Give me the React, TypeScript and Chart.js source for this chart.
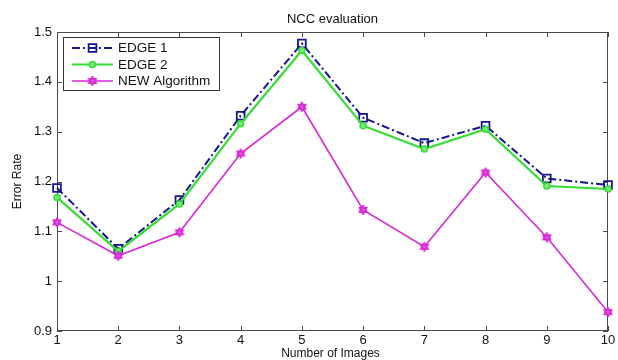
import React, { useEffect, useRef } from "react";
import { Chart, registerables } from "chart.js";

Chart.register(...registerables);

const categories = ["1", "2", "3", "4", "5", "6", "7", "8", "9", "10"];
const edge1 = [1.187, 1.065, 1.163, 1.332, 1.477, 1.328, 1.277, 1.312, 1.206, 1.193];
const edge2 = [1.168, 1.06, 1.155, 1.316, 1.463, 1.312, 1.265, 1.305, 1.191, 1.185];
const newAlgo = [1.118, 1.051, 1.098, 1.256, 1.35, 1.143, 1.069, 1.218, 1.088, 0.938];
const seriesNames = ["EDGE 1", "EDGE 2", "NEW Algorithm"];
const titleText = "NCC evaluation";
const xTitle = "Number of Images";
const yTitle = "Error Rate";
const yMin = 0.9;
const yMax = 1.5;
const yStep = 0.1;

const NAVY = "#16168e";
const GREEN = "#34dc34";
const MAGENTA = "#d629d6";
const AXIS = "#4a4a4a";
const FONT = "'Liberation Sans', Arial, Helvetica, sans-serif";
const DASH1 = [8, 3, 2, 3];

function makeHexagram(color: string, r: number): HTMLCanvasElement {
  const size = Math.ceil(r * 2 + 4);
  const c = document.createElement("canvas");
  c.width = size;
  c.height = size;
  const g = c.getContext("2d")!;
  const cx = size / 2, cy = size / 2;
  g.fillStyle = color;
  g.strokeStyle = color;
  g.lineWidth = 1;
  for (let t = 0; t < 2; t++) {
    g.beginPath();
    for (let k = 0; k < 3; k++) {
      const ang = -Math.PI / 2 + t * Math.PI + (k * 2 * Math.PI) / 3;
      const px = cx + Math.cos(ang) * r, py = cy + Math.sin(ang) * r;
      if (k === 0) g.moveTo(px, py);
      else g.lineTo(px, py);
    }
    g.closePath();
    g.fill();
    g.stroke();
  }
  g.fillStyle = "rgba(255,255,255,0.25)";
  g.beginPath();
  g.arc(cx, cy, r * 0.3, 0, Math.PI * 2);
  g.fill();
  return c;
}

const framePlugin = {
  id: "matlabFrame",
  beforeDatasetsDraw(chart: any) {
    const { ctx, chartArea: a, scales } = chart;
    ctx.save();
    ctx.strokeStyle = AXIS;
    ctx.lineWidth = 1;
    ctx.strokeRect(a.left + 0.5, a.top + 0.5, a.right - a.left - 1, a.bottom - a.top - 1);
    const tl = 5;
    ctx.beginPath();
    scales.x.ticks.forEach((_t: any, i: number) => {
      const x = Math.round(scales.x.getPixelForTick(i)) + 0.5;
      ctx.moveTo(x, a.bottom);
      ctx.lineTo(x, a.bottom - tl);
      ctx.moveTo(x, a.top);
      ctx.lineTo(x, a.top + tl);
    });
    scales.y.ticks.forEach((_t: any, i: number) => {
      const y = Math.round(scales.y.getPixelForTick(i)) + 0.5;
      ctx.moveTo(a.left, y);
      ctx.lineTo(a.left + tl, y);
      ctx.moveTo(a.right, y);
      ctx.lineTo(a.right - tl, y);
    });
    ctx.stroke();
    ctx.restore();
  },
  afterDatasetsDraw(chart: any) {
    const { ctx, chartArea: a } = chart;
    ctx.save();
    ctx.fillStyle = "#111";
    ctx.textAlign = "center";
    ctx.textBaseline = "middle";
    ctx.font = `13px ${FONT}`;
    ctx.fillText(titleText, (a.left + a.right) / 2, 19.5);
    ctx.font = `12px ${FONT}`;
    ctx.fillText(xTitle, (a.left + a.right) / 2 - 2, 354);
    ctx.save();
    ctx.translate(18, (a.top + a.bottom) / 2);
    ctx.rotate(-Math.PI / 2);
    ctx.fillText(yTitle, 0, 0);
    ctx.restore();

    const bx = 63, by = 37, bw = 156, bh = 53;
    ctx.fillStyle = "#fff";
    ctx.fillRect(bx, by, bw, bh);
    ctx.strokeStyle = "#333";
    ctx.lineWidth = 1;
    ctx.strokeRect(bx + 0.5, by + 0.5, bw, bh);
    const rows = [48, 64.5, 81];
    const x0 = 72, x1 = 113, xm = 92.5;
    chart.data.datasets.forEach((ds: any, i: number) => {
      const y = rows[i];
      ctx.save();
      ctx.strokeStyle = ds.borderColor;
      ctx.lineWidth = ds.borderWidth;
      ctx.setLineDash(ds.borderDash || []);
      ctx.beginPath();
      ctx.moveTo(x0, y);
      ctx.lineTo(x1, y);
      ctx.stroke();
      ctx.restore();
      ctx.save();
      ctx.setLineDash([]);
      ctx.lineWidth = ds.pointBorderWidth;
      ctx.strokeStyle = ds.pointBorderColor;
      ctx.fillStyle = ds.pointBackgroundColor;
      drawMarker(ctx, ds.pointStyle, ds.pointRadius, xm, y);
      ctx.restore();
      ctx.fillStyle = "#111";
      ctx.textAlign = "left";
      ctx.textBaseline = "middle";
      ctx.font = `13.5px ${FONT}`;
      ctx.fillText(ds.label, 118, y + 0.5);
    });
    ctx.restore();
  },
};

function drawMarker(ctx: CanvasRenderingContext2D, style: any, r: number, x: number, y: number) {
  ctx.beginPath();
  if (style === "rect") {
    const s = Math.SQRT1_2 * r;
    ctx.rect(x - s, y - s, 2 * s, 2 * s);
    ctx.stroke();
  } else if (style === "circle") {
    ctx.arc(x, y, r, 0, Math.PI * 2);
    ctx.fill();
    ctx.stroke();
  } else if (style && style.width) {
    ctx.drawImage(style, x - style.width / 2, y - style.height / 2);
  }
}

export default function App() {
  const ref = useRef<HTMLCanvasElement | null>(null);
  useEffect(() => {
    document.body.style.margin = "0";
    const canvas = ref.current!;
    const hex = makeHexagram(MAGENTA, 5);
    const chart = new Chart(canvas, {
      type: "line",
      data: {
        labels: categories,
        datasets: [
          {
            label: seriesNames[0],
            data: edge1,
            borderColor: NAVY,
            borderWidth: 2,
            borderDash: DASH1,
            pointStyle: "rect",
            pointRadius: 5.5,
            pointBorderWidth: 1.8,
            pointBorderColor: NAVY,
            pointBackgroundColor: "rgba(0,0,0,0)",
            fill: false,
            tension: 0,
            order: 3,
          },
          {
            label: seriesNames[1],
            data: edge2,
            borderColor: GREEN,
            borderWidth: 2.2,
            pointStyle: "circle",
            pointRadius: 3,
            pointBorderWidth: 1.5,
            pointBorderColor: GREEN,
            pointBackgroundColor: "#7ae87a",
            fill: false,
            tension: 0,
            order: 2,
          },
          {
            label: seriesNames[2],
            data: newAlgo,
            borderColor: MAGENTA,
            borderWidth: 1.6,
            pointStyle: hex,
            pointRadius: 5,
            pointBorderWidth: 1,
            pointBorderColor: MAGENTA,
            pointBackgroundColor: MAGENTA,
            fill: false,
            tension: 0,
            order: 1,
          },
        ] as any,
      },
      options: {
        animation: false,
        responsive: false,
        devicePixelRatio: 1,
        layout: { padding: { top: 32, right: 10, left: 0, bottom: 0 } },
        plugins: {
          legend: { display: false },
          title: { display: false },
          tooltip: { enabled: false },
        },
        scales: {
          x: {
            type: "category",
            offset: false,
            grid: { display: false, drawTicks: false },
            border: { display: false },
            ticks: {
              padding: 2,
              color: "#111",
              font: { family: FONT, size: 13 },
              maxRotation: 0,
              autoSkip: false,
            },
            afterFit: (s: any) => {
              s.height = 29;
            },
          },
          y: {
            type: "linear",
            min: yMin,
            max: yMax,
            grid: { display: false, drawTicks: false },
            border: { display: false },
            ticks: {
              stepSize: yStep,
              padding: 5,
              color: "#111",
              font: { family: FONT, size: 13 },
              callback: (v: any) => String(Number(Number(v).toFixed(1))),
            },
            afterFit: (s: any) => {
              s.width = 57;
            },
          },
        },
      } as any,
      plugins: [framePlugin],
    });
    return () => chart.destroy();
  }, []);
  return (
    <div style={{ position: "absolute", left: 0, top: 0, width: 618, height: 360, background: "#fff" }}>
      <canvas ref={ref} width={618} height={360} style={{ width: 618, height: 360, display: "block" }} />
    </div>
  );
}
